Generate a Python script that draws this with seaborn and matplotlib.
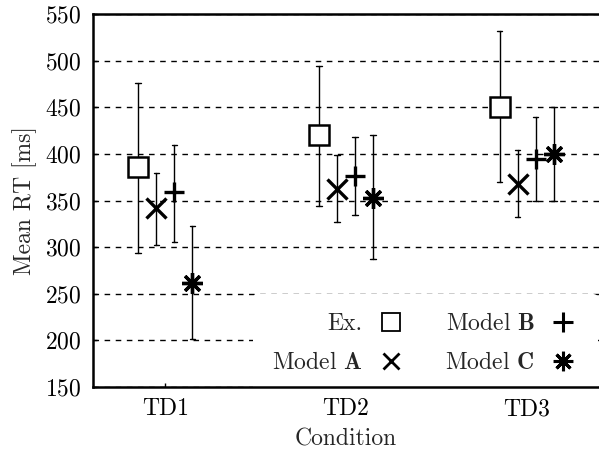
import numpy as np
import pandas as pd
import matplotlib
matplotlib.use("Agg")
import matplotlib.pyplot as plt
from matplotlib.lines import Line2D
import seaborn as sns

conditions = ["TD1", "TD2", "TD3"]
models = ["Ex.", "Model A", "Model B", "Model C"]
legend_labels = ["Ex.", r"Model $\mathbf{A}$", r"Model $\mathbf{B}$", r"Model $\mathbf{C}$"]

mean_ex = [386, 420, 450]
mean_a = [342, 362, 368]
mean_b = [359, 376, 394]
mean_c = [262, 353, 400]

low_ex = [294, 344, 370]
low_a = [302, 327, 332]
low_b = [306, 334, 349]
low_c = [201, 287, 350]

high_ex = [476, 494, 532]
high_a = [379, 399, 404]
high_b = [410, 418, 440]
high_c = [323, 420, 450]

yticks = [150, 200, 250, 300, 350, 400, 450, 500, 550]

sns.set_theme(style="white")
plt.rcParams["font.family"] = ["cmr10", "DejaVu Serif"]
plt.rcParams["mathtext.fontset"] = "cm"
plt.rcParams["axes.formatter.use_mathtext"] = True

means = [mean_ex, mean_a, mean_b, mean_c]
lows = [low_ex, low_a, low_b, low_c]
highs = [high_ex, high_a, high_b, high_c]

rows = []
for m, mu, lo, hi in zip(models, means, lows, highs):
    for c, a, b, d in zip(conditions, lo, mu, hi):
        for v in (a, b, d):
            rows.append({"Condition": c, "Model": m, "RT": v})
df = pd.DataFrame(rows)

markers = ["s", "x", "+", (8, 2, 0)]

fig = plt.figure(figsize=(5.99, 4.63), dpi=100)
ax = fig.add_axes([93 / 599, 1 - 387 / 463, 1 - 93 / 599, (387 - 14) / 463])

sns.pointplot(
    data=df, x="Condition", y="RT", hue="Model", order=conditions, hue_order=models,
    estimator="median", errorbar=lambda v: (np.min(v), np.max(v)),
    palette=["black"] * 4, markers=markers, linestyle="none", dodge=0.3,
    capsize=0.03, err_kws={"linewidth": 1.0}, markersize=15, markeredgewidth=2.4,
    legend=False, ax=ax,
)

for ln in ax.lines:
    mk = ln.get_marker()
    if mk == "s":
        ln.set_markerfacecolor("white")
        ln.set_markeredgewidth(1.8)
        ln.set_zorder(5)
    elif mk in ("x", "+") or isinstance(mk, tuple):
        ln.set_zorder(5)

ax.set_xlim(-0.4, 2.4)
ax.set_ylim(150, 550)
ax.set_yticks(yticks)
ax.yaxis.grid(True, color="black", linestyle=(0, (4, 4)), linewidth=1.0)
ax.xaxis.grid(False)
ax.set_axisbelow(True)

for side in ["left", "bottom", "top"]:
    ax.spines[side].set_visible(True)
    ax.spines[side].set_color("black")
    ax.spines[side].set_linewidth(1.8)
    ax.spines[side].set_zorder(3)
ax.spines["right"].set_visible(False)

ax.tick_params(axis="both", direction="in", length=3, width=1, colors="black",
               labelsize=17, pad=8)
ax.tick_params(axis="y", left=True)
ax.tick_params(axis="x", bottom=True)

ax.set_xlabel("Condition", fontsize=17, labelpad=6)
ax.set_ylabel("Mean RT [ms]", fontsize=17, labelpad=6)

handles = [
    Line2D([], [], marker="s", color="black", linestyle="none", markersize=13,
           markerfacecolor="white", markeredgewidth=1.3),
    Line2D([], [], marker="x", color="black", linestyle="none", markersize=12,
           markeredgewidth=2.0),
    Line2D([], [], marker="+", color="black", linestyle="none", markersize=14,
           markeredgewidth=2.2),
    Line2D([], [], marker=(8, 2, 0), color="black", linestyle="none", markersize=14,
           markeredgewidth=2.2),
]
leg = ax.legend(handles, legend_labels, ncol=2, markerfirst=False, loc="lower right",
                bbox_to_anchor=(610 / 599, 1 - 405 / 463), bbox_transform=fig.transFigure,
                frameon=True, fontsize=17, labelspacing=0.72, columnspacing=1.6,
                handletextpad=0.5, handlelength=1.4, borderpad=0.8)
leg.get_frame().set_edgecolor("none")
leg.get_frame().set_facecolor("white")
leg.get_frame().set_alpha(1.0)
leg.set_zorder(2.2)

fig.savefig("out.png", dpi=100)
